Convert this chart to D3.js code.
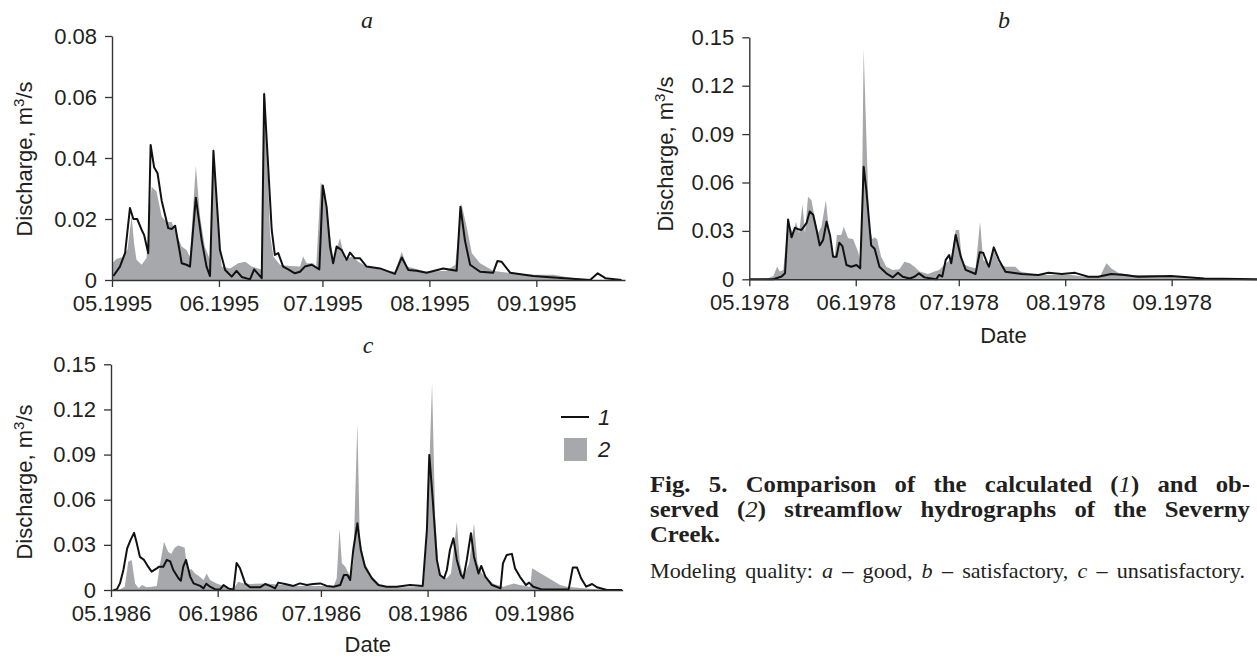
<!DOCTYPE html>
<head>
    <meta charset="utf-8">
    <script src="https://cdn.jsdelivr.net/npm/d3@7"></script>
    <title>Severny Creek hydrographs</title>
    <style>
        body { margin: 0; background: #fff; }
        svg text { font-family: "Liberation Sans", Arial, sans-serif; fill: #231f20; }
        .serif { font-family: "Liberation Serif", "Times New Roman", serif; }
    </style>
</head>
<body>
<svg id="fig" width="1257" height="656"></svg>
<script>
    // values: [days since first day of May, discharge m3/s]
    const calcA = [[0.4,0.0013],[2.3,0.0044],[3.8,0.0089],[5.2,0.0236],[6.2,0.020],[7.3,0.020],[8.6,0.0164],[9.3,0.0148],[10.5,0.0088],[11.2,0.0443],[12.2,0.037],[13.2,0.035],[14.4,0.026],[16.3,0.017],[17.3,0.0167],[18.3,0.0178],[19.7,0.0088],[20.2,0.0055],[21.6,0.005],[22.6,0.0044],[24.3,0.027],[26.0,0.013],[27.4,0.0044],[28.4,0.0013],[29.4,0.0424],[31.3,0.0098],[32.8,0.0033],[34.7,0.0011],[36.1,0.003],[37.6,0.001],[40,0.0002],[41.2,0.0035],[43.4,0.0006],[44.1,0.061],[46.3,0.0164],[47.2,0.0082],[48.2,0.0088],[49.6,0.0044],[51.1,0.0035],[53,0.0022],[54.5,0.0027],[55.9,0.0044],[57.9,0.005],[60.1,0.0035],[61.1,0.031],[62.2,0.024],[63.2,0.011],[64.1,0.0055],[65.1,0.011],[66.6,0.0098],[68,0.0066],[69,0.009],[70.4,0.0071],[71.9,0.0071],[73.8,0.0044],[77.7,0.0038],[82,0.002],[84,0.0074],[85.9,0.0033],[88.3,0.003],[91.2,0.0024],[96,0.0038],[99.9,0.003],[101,0.024],[102.3,0.013],[103.8,0.005],[106.7,0.0027],[110.5,0.0024],[111.7,0.0062],[112.9,0.006],[115.4,0.0024],[122.1,0.0013],[127,0.0009],[138.6,0],[140.8,0.0022],[143,0.0006],[147.7,0]];
    const obsA = [[0,0.0055],[1.4,0.007],[3,0.0075],[4.5,0.010],[5.7,0.021],[6.4,0.012],[7.1,0.0066],[8.6,0.005],[10,0.0072],[10.8,0.021],[11.5,0.0306],[12.9,0.029],[14.4,0.0208],[15.8,0.019],[17.3,0.019],[18.7,0.015],[20.2,0.011],[21.6,0.0098],[22.6,0.0076],[24.3,0.0375],[25.5,0.021],[26.9,0.011],[28.4,0.0066],[29.4,0.0437],[30.8,0.015],[31.8,0.0044],[34.2,0.0038],[36.6,0.0055],[38.6,0.006],[40.5,0.0044],[42.4,0.0038],[43.4,0.0033],[44.3,0.063],[45.8,0.015],[46.8,0.0076],[48.7,0.005],[51.6,0.0046],[54.5,0.0044],[55.4,0.0077],[56.4,0.0055],[58.3,0.0055],[59.2,0.0044],[60.5,0.032],[61.7,0.0295],[63.2,0.015],[64.1,0.0066],[66.1,0.0137],[67.5,0.0066],[69.5,0.0077],[71.4,0.006],[73.8,0.0044],[78.7,0.0033],[82,0.0027],[84,0.0093],[85.5,0.0044],[91.2,0.0027],[97,0.003],[99.5,0.005],[101.3,0.025],[102.8,0.0175],[104.3,0.0088],[106.7,0.0055],[110.5,0.003],[112.4,0.0027],[116.3,0.0022],[122.1,0.0017],[127.9,0.0017],[131.7,0.001],[138.6,0],[148.7,0]];

    const calcB = [[0,0],[7,0],[9.4,0.0017],[10.4,0.0037],[11.3,0.037],[12.3,0.026],[13.3,0.032],[14.3,0.031],[15.2,0.0306],[16.7,0.035],[17.6,0.042],[18.6,0.040],[19.6,0.0306],[20.5,0.021],[21.5,0.0244],[22.5,0.0357],[23.5,0.0275],[24.4,0.014],[25.4,0.014],[26.2,0.0227],[27.1,0.0206],[28.3,0.0089],[29.7,0.0078],[31.2,0.0089],[32.3,0.0068],[33.3,0.0698],[34.1,0.055],[35.5,0.021],[36.5,0.019],[37.9,0.0078],[39.9,0.0037],[41.8,0.0012],[43.3,0.004],[44.7,0.0016],[46.7,0.0005],[48.1,0.0016],[49.4,0.0037],[51,0.0012],[54.4,0],[55.3,0.0027],[56.2,0.0017],[57.2,0.012],[58.2,0.015],[58.8,0.0099],[60.1,0.0275],[61.6,0.014],[63,0.0058],[65.9,0.0033],[67.1,0.0167],[68.1,0.0165],[69.3,0.0099],[69.8,0.0078],[71.2,0.0198],[72.7,0.012],[74.6,0.0047],[79.4,0.0033],[84.2,0.0027],[87.1,0.004],[91,0.0033],[94.9,0.004],[98.7,0.0016],[101.6,0.0016],[105.4,0.0033],[109.3,0.0027],[113.2,0.0016],[122.8,0.002],[127.7,0.0012],[132.5,0.0005],[148,0]];
    const obsB = [[0,0],[5.3,0.0005],[7,0.002],[8.1,0.0078],[8.9,0.0048],[9.9,0.0058],[10.9,0.0285],[11.8,0.0326],[12.8,0.0285],[13.6,0.0357],[14.5,0.0285],[15.5,0.0467],[16.2,0.0285],[17.1,0.0512],[18.1,0.049],[19,0.039],[20,0.0285],[21,0.0326],[22.3,0.049],[23.3,0.0285],[23.9,0.018],[24.9,0.014],[25.5,0.0275],[26.8,0.0275],[27.5,0.0326],[28.8,0.0254],[30.2,0.025],[31.7,0.017],[32.6,0.009],[33.3,0.143],[34.9,0.0326],[35.9,0.0248],[36.5,0.026],[37.2,0.0248],[38.4,0.014],[39.9,0.0078],[41.8,0.0058],[43.7,0.0062],[45.2,0.0109],[46.7,0.0099],[48.1,0.0078],[49.6,0.0048],[52,0.0033],[53.9,0.0048],[55.3,0.0058],[57.2,0.0099],[58.7,0.012],[60.1,0.0306],[61.1,0.0306],[62,0.0099],[64,0.0078],[65.9,0.0068],[67.2,0.0357],[68.1,0.012],[69.8,0.0099],[71.2,0.018],[72.7,0.0099],[74.6,0.0078],[77.5,0.0078],[78.9,0.0048],[84.2,0.0027],[93.9,0.0027],[98.7,0.0012],[102.1,0.0016],[104,0.0099],[105.4,0.0068],[107.4,0.004],[111.2,0.0027],[118,0.0027],[124.8,0.0016],[132.5,0.0005],[148,0]];

    const calcC = [[0.7,0],[1.7,0.0004],[2.6,0.0044],[3.6,0.0133],[4.7,0.0277],[5.7,0.0333],[6.7,0.038],[7.5,0.031],[8.4,0.022],[9.6,0.020],[10.8,0.0155],[11.8,0.0122],[13.3,0.0144],[14,0.0155],[15.2,0.0155],[16.2,0.020],[17.2,0.019],[18.1,0.0133],[19.6,0.0078],[20.3,0.0062],[21,0.0155],[21.8,0.020],[23,0.0089],[24,0.0044],[25.9,0.0027],[26.9,0.0011],[27.7,0.0042],[28.8,0.0022],[30.3,0.0004],[31.7,0.0004],[32.7,0.0033],[34.1,0.0011],[35.6,0],[36.5,0.018],[37.5,0.0144],[39,0.0044],[40.4,0.0018],[43.3,0.0018],[44.8,0.004],[46.2,0.0027],[47.7,0.0011],[48.6,0.0049],[50.6,0.004],[53,0.0027],[54.9,0.0044],[56.9,0.0033],[58.8,0.004],[60.8,0.0044],[62.7,0.0027],[64.7,0.0022],[66.6,0.0033],[67.7,0.01],[68.7,0.01],[69.5,0.0066],[70.4,0.0266],[71.6,0.0443],[72.6,0.0266],[73.8,0.0155],[75.8,0.0078],[77.7,0.0033],[80.1,0.0022],[83,0.0022],[86.9,0.0033],[90.6,0.0027],[91.8,0.04],[92.5,0.0898],[93.5,0.06],[94.7,0.02],[95.6,0.01],[96.8,0.0078],[97.6,0.0133],[98.5,0.0266],[99.5,0.0344],[100.5,0.02],[101.7,0.01],[102.4,0.0078],[103.4,0.02],[104.6,0.0377],[105.5,0.022],[106.8,0.011],[107.6,0.016],[108.8,0.0089],[110.7,0.0033],[113.2,0.0011],[113.9,0.0177],[115,0.0233],[116.5,0.024],[117.4,0.0144],[118.8,0.0089],[120.6,0.0033],[121.5,0.0049],[122.7,0.0022],[125.1,0.0004],[133,0.0004],[134.2,0.015],[135.4,0.015],[136.6,0.0078],[138.1,0.0022],[139.8,0.004],[141.2,0.0018],[144.1,0],[148.5,0]];
    const obsC = [[0.7,0],[2.6,0.0004],[4,0.0022],[5,0.0188],[6,0.020],[7,0.0044],[8,0.0011],[9,0.0033],[10.4,0.0018],[11.8,0.0022],[13.3,0.0027],[14.3,0.0177],[15.4,0.032],[16.6,0.0255],[17.5,0.024],[18.5,0.028],[19.5,0.0295],[20.7,0.0288],[21.4,0.028],[22.2,0.0133],[23.4,0.0138],[24.4,0.011],[25.7,0.0089],[26.9,0.0066],[27.8,0.011],[28.8,0.0066],[30.7,0.0044],[32.7,0.0027],[34.6,0.0011],[36,0.0022],[37,0.0055],[38.5,0.0044],[40.4,0.004],[45.3,0.0044],[50.1,0.0033],[54.9,0.0027],[64.7,0.0027],[65.6,0.0078],[66.4,0.041],[67.1,0.0177],[68.1,0.0155],[69.5,0.0089],[70.4,0.0177],[71.6,0.111],[72.3,0.0333],[73.8,0.0177],[75.8,0.0089],[78.2,0.0033],[82,0.0018],[86.9,0.0018],[90.8,0.0022],[91.9,0.04],[93.3,0.1375],[94.2,0.0488],[95.2,0.0133],[96.2,0.0089],[97.6,0.0078],[98.8,0.011],[100.5,0.0454],[101.4,0.0177],[102.4,0.0089],[104.1,0.0177],[105.5,0.0443],[106.5,0.0177],[107.8,0.011],[109.2,0.0078],[111.2,0.004],[114.1,0.0022],[117,0.0044],[118.8,0.0033],[121.8,0.0022],[122.4,0.0144],[130.5,0.0033],[132.5,0.0022],[137.3,0.0011],[142.2,0.0004],[148.5,0]];

    const ticksA = [0, 0.02, 0.04, 0.06, 0.08];
    const ticksBC = [0, 0.03, 0.06, 0.09, 0.12, 0.15];
    const yLabel = "Discharge, m";
    const caption1 = "Fig. 5. Comparison of the calculated (|1|) and ob-";
    const caption2 = "served (|2|) streamflow hydrographs of the Severny";
    const caption3 = "Creek.";
    const caption4 = "Modeling quality: |a| – good, |b| – satisfactory, |c| – unsatisfactory.";

    const svg = d3.select("#fig");
    const DAY = 864e5;

    function drawPanel(p) {
        const start = Date.UTC(p.year, 4, 1);
        const x = d3.scaleUtc()
            .domain([new Date(start), new Date(start + p.days * DAY)])
            .range([p.left, p.right]);
        const y = d3.scaleLinear().domain([0, p.yMax]).range([p.bottom, p.top]);
        const px = d => x(new Date(start + d[0] * DAY));

        const g = svg.append("g");

        // observed: grey area
        g.append("path")
            .datum(p.obs)
            .attr("fill", "#a7a8ab")
            .attr("d", d3.area().x(px).y0(y(0)).y1(d => y(d[1])));

        // calculated: black line
        g.append("path")
            .datum(p.calc)
            .attr("fill", "none")
            .attr("stroke", "#111")
            .attr("stroke-width", 2)
            .attr("stroke-linejoin", "round")
            .attr("d", d3.line().x(px).y(d => y(d[1])));

        const xAxis = g.append("g")
            .attr("transform", `translate(0,${p.bottom})`)
            .call(d3.axisBottom(x)
                .ticks(d3.utcMonth.every(1))
                .tickFormat(d3.utcFormat("%m.%Y"))
                .tickSize(7).tickSizeOuter(0).tickPadding(8));

        const yAxis = g.append("g")
            .attr("transform", `translate(${p.left},0)`)
            .call(d3.axisLeft(y)
                .tickValues(p.yTicks)
                .tickFormat(d => d === 0 ? "0" : d3.format(".2f")(d))
                .tickSize(7).tickSizeOuter(0).tickPadding(8));

        [xAxis, yAxis].forEach(a => {
            a.attr("font-size", 22).attr("font-family", null);
            a.select(".domain").attr("stroke", "#333").attr("stroke-width", 1.4);
            a.selectAll(".tick line").attr("stroke", "#333").attr("stroke-width", 1.3);
            a.selectAll(".tick text").attr("fill", "#231f20");
        });

        // y title
        const t = g.append("text")
            .attr("transform", `translate(${p.yTitleX},${p.yTitleY}) rotate(-90)`)
            .attr("text-anchor", "middle")
            .attr("font-size", 22);
        t.append("tspan").text(yLabel);
        t.append("tspan").attr("dy", -8).attr("font-size", 15).text("3");
        t.append("tspan").attr("dy", 8).text("/s");

        // panel letter
        g.append("text")
            .attr("class", "serif")
            .attr("x", p.letterX).attr("y", p.letterY)
            .attr("text-anchor", "middle")
            .attr("font-style", "italic")
            .attr("font-size", 24)
            .text(p.letter);

        if (p.dateY) {
            g.append("text")
                .attr("x", (p.left + p.right) / 2 + p.dateShift)
                .attr("y", p.dateY)
                .attr("text-anchor", "middle")
                .attr("font-size", 22)
                .text("Date");
        }
    }

    drawPanel({ year: 1995, days: 148.7, left: 112, right: 625, top: 36, bottom: 280, yMax: 0.08,
        yTicks: ticksA, calc: calcA, obs: obsA, yTitleX: 32, yTitleY: 159,
        letter: "a", letterX: 367, letterY: 28 });
    drawPanel({ year: 1978, days: 148, left: 749.3, right: 1257.5, top: 37.3, bottom: 279.3, yMax: 0.15,
        yTicks: ticksBC, calc: calcB, obs: obsB, yTitleX: 673, yTitleY: 154,
        letter: "b", letterX: 1004, letterY: 28, dateY: 343, dateShift: 0 });
    drawPanel({ year: 1986, days: 148.7, left: 111, right: 622.7, top: 364.3, bottom: 590, yMax: 0.15,
        yTicks: ticksBC, calc: calcC, obs: obsC, yTitleX: 32, yTitleY: 482,
        letter: "c", letterX: 368, letterY: 353, dateY: 652, dateShift: 1 });

    // legend inside panel c
    const legend = svg.append("g");
    legend.append("line")
        .attr("x1", 561).attr("x2", 589).attr("y1", 417).attr("y2", 417)
        .attr("stroke", "#111").attr("stroke-width", 2);
    legend.append("rect")
        .attr("x", 564).attr("y", 438).attr("width", 23).attr("height", 23)
        .attr("fill", "#a7a8ab");
    legend.selectAll(".lab")
        .data(["1", "2"])
        .enter().append("text")
        .attr("x", 598)
        .attr("y", (d, i) => 425 + i * 32)
        .attr("font-size", 22)
        .attr("font-style", "italic")
        .text(d => d);

    // caption, parts between bars are italic; glyphs a bit wider, justified lines
    // get the rest of the width as word spacing
    function captionLine(str, yPos, opts) {
        const t = svg.append("text")
            .attr("class", "serif")
            .attr("transform", `translate(650,${yPos}) scale(${opts.scale},1)`)
            .attr("font-size", opts.size)
            .attr("font-weight", opts.bold ? "bold" : null);
        str.split("|").forEach((s, i) => {
            t.append("tspan").attr("font-style", i % 2 ? "italic" : null)
                .attr("font-weight", i % 2 ? "normal" : null).text(s);
        });
        if (opts.width) {
            const spaces = str.split(" ").length - 1;
            const extra = (opts.width / opts.scale - t.node().getComputedTextLength()) / spaces;
            t.attr("word-spacing", Math.max(0, extra));
        }
    }
    captionLine(caption1, 492, { size: 22.5, bold: true, scale: 1.1, width: 600 });
    captionLine(caption2, 517, { size: 22.5, bold: true, scale: 1.1, width: 600 });
    captionLine(caption3, 542, { size: 22.5, bold: true, scale: 1.1 });
    captionLine(caption4, 578, { size: 20.5, scale: 1.08, width: 595 });
</script>
</body>
